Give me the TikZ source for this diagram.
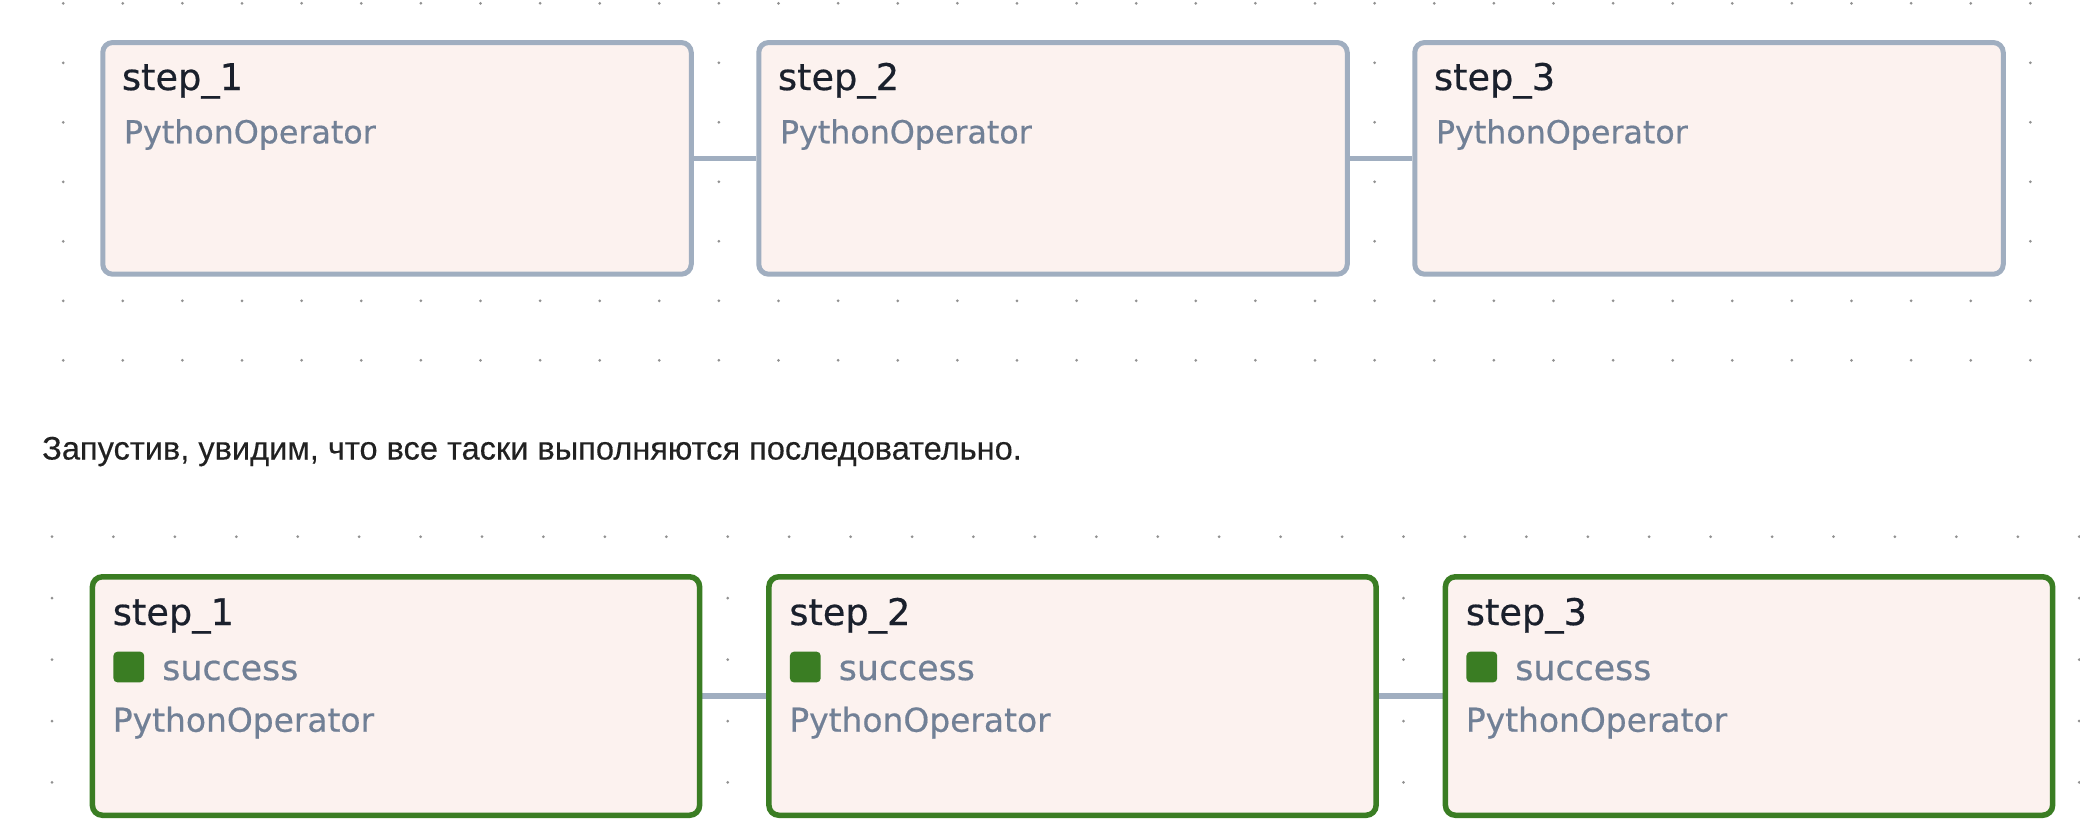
\documentclass[tikz,border=0pt]{standalone}
\usepackage{fontspec}
\setmainfont{DejaVu Sans}[FakeBold=0.5]
\newfontfamily\sentencefont{Liberation Sans}[FakeBold=0.3]
\usepackage{xcolor}
\usepackage{tikz}
\usetikzlibrary{calc,backgrounds}

\definecolor{boxfill}{RGB}{252,242,239}
\definecolor{edgegray}{HTML}{A0AEC0}
\definecolor{successgreen}{RGB}{58,125,35}
\definecolor{labelgray}{HTML}{718096}
\definecolor{namedark}{HTML}{1A202C}
\definecolor{dotgray}{RGB}{145,145,145}

\begin{document}
\begin{tikzpicture}[
    x=0.1mm, y=-0.1mm,
    planbox/.style={draw=edgegray, line width=0.5mm, fill=boxfill, rounded corners=1mm, minimum width=58.85mm, minimum height=23.17mm, inner sep=0pt},
    runbox/.style={draw=successgreen, line width=0.55mm, fill=boxfill, rounded corners=1mm, minimum width=60.72mm, minimum height=23.85mm, inner sep=0pt},
    planname/.style={anchor=base west, inner sep=0pt, text=namedark, font=\fontsize{10.45pt}{12pt}\selectfont},
    planop/.style={anchor=base west, inner sep=0pt, text=labelgray, font=\fontsize{9.02pt}{11pt}\selectfont},
    runname/.style={anchor=base west, inner sep=0pt, text=namedark, font=\fontsize{10.44pt}{12pt}\selectfont},
    runop/.style={anchor=base west, inner sep=0pt, text=labelgray, font=\fontsize{9.36pt}{11pt}\selectfont},
    statetext/.style={anchor=base west, inner sep=0pt, text=labelgray, font=\fontsize{9.9pt}{11pt}\selectfont},
    statebox/.style={fill=successgreen, rounded corners=0.4mm, minimum size=3.07mm, inner sep=0pt},
    sentence/.style={anchor=base west, inner sep=0pt, text=black!87, font=\sentencefont\fontsize{9.27pt}{11pt}\selectfont},
    link/.style={draw=edgegray, line width=0.55mm},
    griddot/.style={fill=dotgray}
]

% Page background and size
\begin{scope}[on background layer]
    \fill[white] (0,0) rectangle (2080,838);
\end{scope}
\useasboundingbox (0,0) rectangle (2080,838);

% Dotted canvas of the graph views
\foreach \k in {0,...,33} {
    \foreach \j in {0,...,6} {
        \fill[griddot] (63.2+59.61*\k, 3.3+59.5*\j) circle[radius=0.15mm];
    }
    \foreach \j in {0,...,4} {
        \fill[griddot] (52+61.43*\k, 536.7+61.43*\j) circle[radius=0.15mm];
    }
}

% Graph before the run
\foreach \i/\x in {1/397, 2/1053, 3/1709} {
    \node[planbox] (plan\i) at (\x,158.35) {};
    \node[planname] (planname\i) at ($(plan\i.north west)+(21,50)$) {step\_\i};
    \node[planop] (planop\i) at ($(plan\i.north west)+(23,103.3)$) {PythonOperator};
}

% Text between the views
\node[sentence] (note) at (41.5,459.5) {Запустив, увидим, что все таски выполняются последовательно.};

% Graph after the run
\foreach \i/\x in {1/396, 2/1072.5, 3/1749} {
    \node[runbox] (run\i) at (\x,696) {};
    \node[runname] (runname\i) at ($(run\i.north west)+(22.5,51)$) {step\_\i};
    \node[statebox] (runstate\i) at ($(run\i.north west)+(39.15,93)$) {};
    \node[statetext] (runstatetext\i) at ($(run\i.north west)+(71.9,106)$) {success};
    \node[runop] (runop\i) at ($(run\i.north west)+(22.5,157.7)$) {PythonOperator};
}

% Dependencies
\begin{scope}[on background layer]
    \draw[link] (plan1) -- (plan2);
    \draw[link] (plan2) -- (plan3);
    \draw[link] (run1) -- (run2);
    \draw[link] (run2) -- (run3);
\end{scope}

\end{tikzpicture}
\end{document}
